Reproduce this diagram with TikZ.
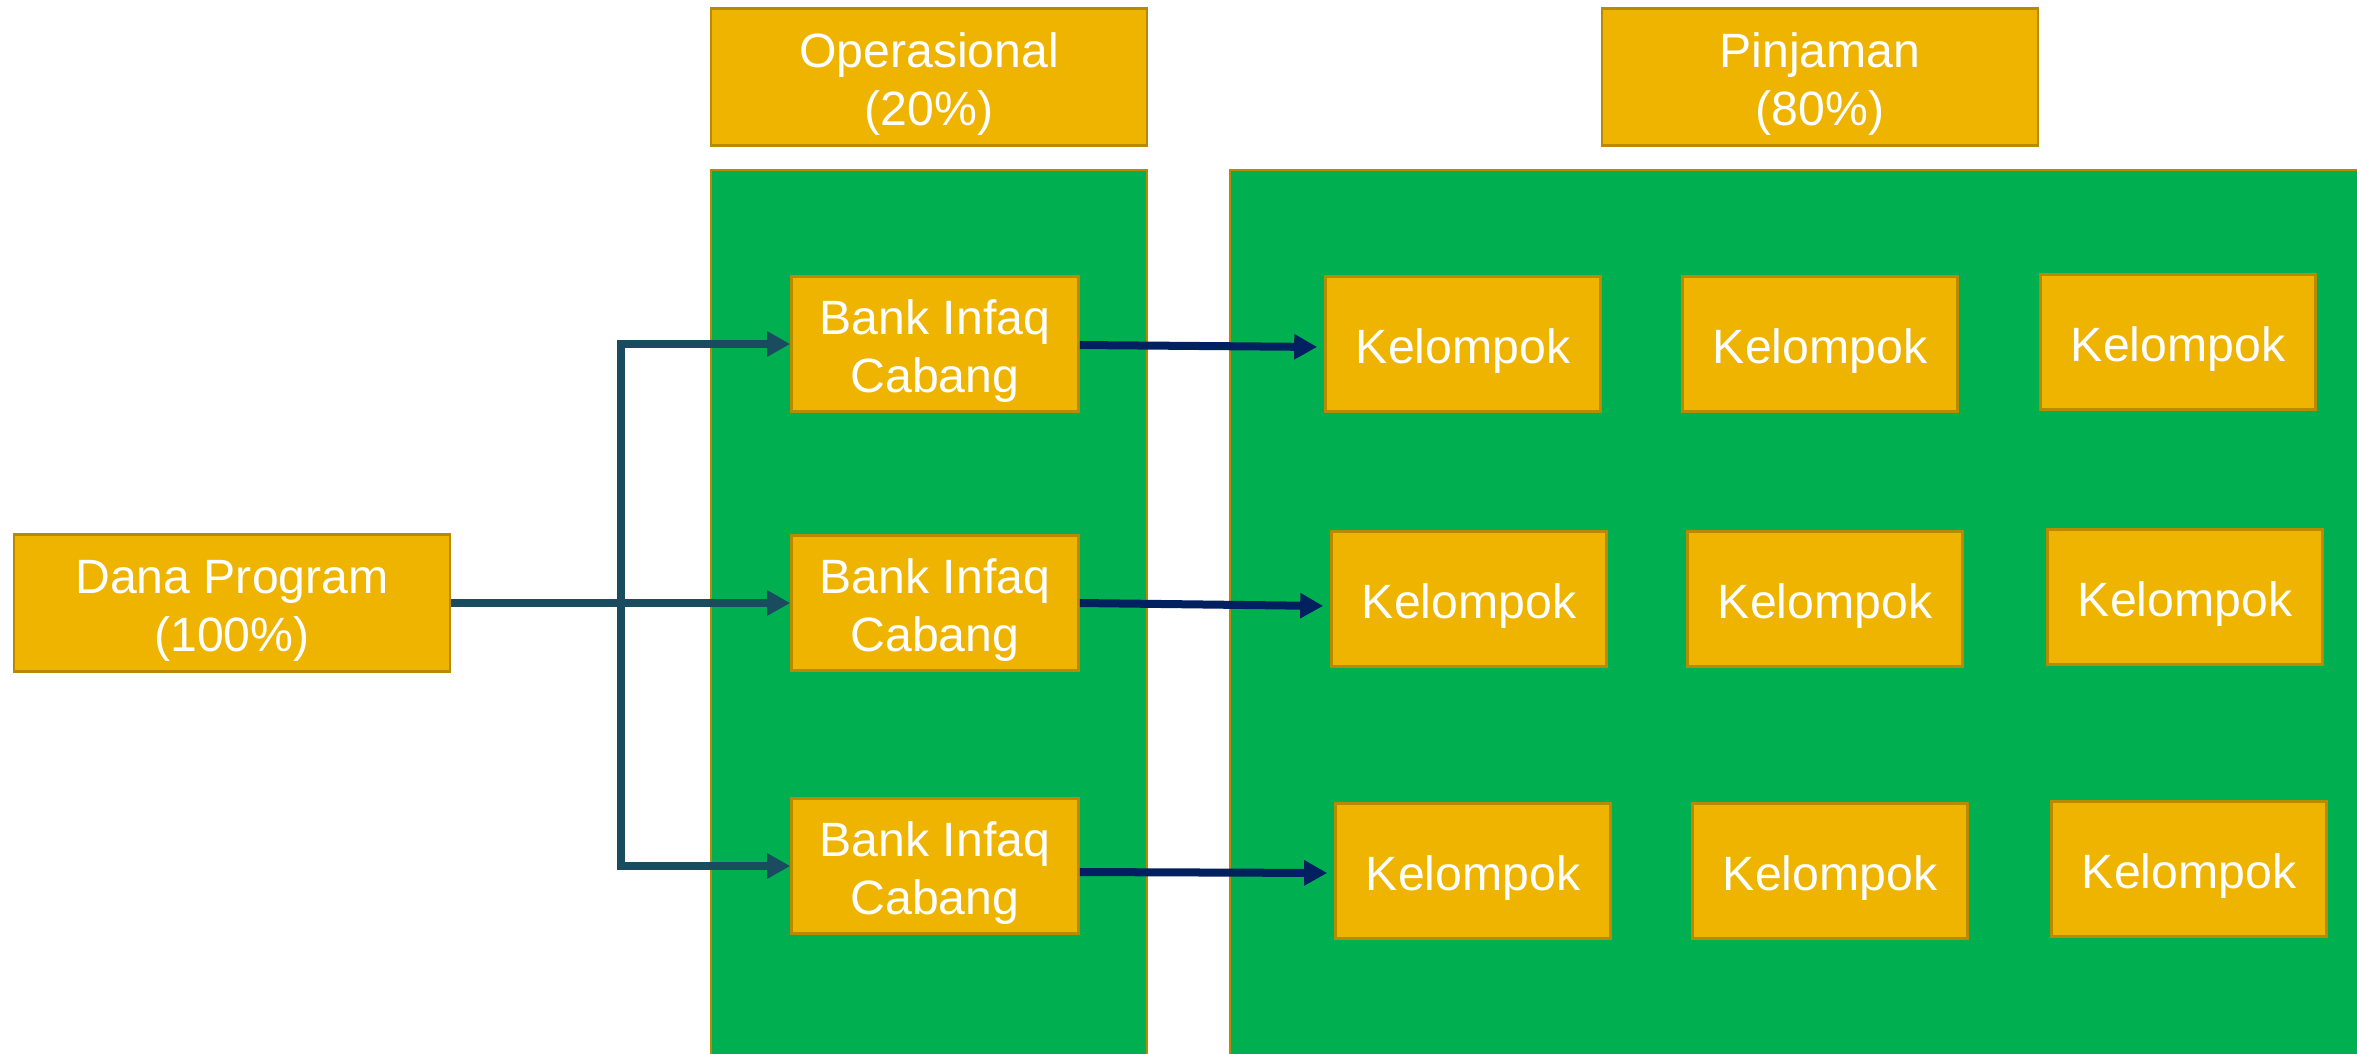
\documentclass[tikz,border=0pt]{standalone}
\usepackage{fontspec}
\setmainfont{Liberation Sans}
\usetikzlibrary{arrows.meta}
\definecolor{gold}{RGB}{238,180,0}
\definecolor{goldedge}{RGB}{184,138,0}
\definecolor{panelgreen}{RGB}{0,176,80}
\definecolor{tealline}{RGB}{27,75,95}
\definecolor{navyline}{RGB}{0,32,96}
% text sits a little below the middle of each box
\newcommand{\boxlabel}[1]{\raisebox{-0.075cm}[\height][\depth]{\begin{tabular}{@{}c@{}}#1\end{tabular}}}
\begin{document}
\begin{tikzpicture}[x=0.01cm, y=-0.01cm,
  box/.style={rectangle, fill=gold, draw=goldedge, line width=0.7pt, text=white, inner sep=0pt, font=\fontsize{13.7}{16.5}\selectfont},
  head/.style={box, minimum width=4.36cm, minimum height=1.37cm},
  bank/.style={box, minimum width=2.87cm, minimum height=1.35cm},
  kel/.style={box, minimum width=2.75cm, minimum height=1.35cm},
  panel/.style={fill=panelgreen, draw=goldedge, line width=0.7pt},
  link/.style={line width=0.08cm, -{Triangle[length=0.23cm,width=0.24cm]}}]
\useasboundingbox (0,0) rectangle (2357,1053);
\fill[white] (0,0) rectangle (2357,1053);
% panels
\draw[panel] (711,170) rectangle (1147,1070);
\draw[panel] (1230,170) rectangle (2370,1070);
% headers
\node[head] (dana) at (232,603) {\boxlabel{Dana Program\\(100\%)}};
\node[head] (oper) at (929,77) {\boxlabel{Operasional\\(20\%)}};
\node[head] (pinj) at (1820,77) {\boxlabel{Pinjaman\\(80\%)}};
% bank infaq
\node[bank] (bank1) at (935,344) {\boxlabel{Bank Infaq\\Cabang}};
\node[bank] (bank2) at (935,603) {\boxlabel{Bank Infaq\\Cabang}};
\node[bank] (bank3) at (935,866) {\boxlabel{Bank Infaq\\Cabang}};
% kelompok
\node[kel] (k11) at (1463,344) {\boxlabel{Kelompok}};
\node[kel] (k12) at (1820,344) {\boxlabel{Kelompok}};
\node[kel] (k13) at (2178,342) {\boxlabel{Kelompok}};
\node[kel] (k21) at (1469,599) {\boxlabel{Kelompok}};
\node[kel] (k22) at (1825,599) {\boxlabel{Kelompok}};
\node[kel] (k23) at (2185,597) {\boxlabel{Kelompok}};
\node[kel] (k31) at (1473,871) {\boxlabel{Kelompok}};
\node[kel] (k32) at (1830,871) {\boxlabel{Kelompok}};
\node[kel] (k33) at (2189,869) {\boxlabel{Kelompok}};
% connectors
\coordinate (split) at (621,603);
\draw[link, tealline] (dana.east) -- (bank2.west);
\draw[link, tealline] (split) |- (bank1.west);
\draw[link, tealline] (split) |- (bank3.west);
\draw[link, navyline, shorten >=0.07cm] ([yshift=-0.01cm]bank1.east) -- ([yshift=-0.03cm]k11.west);
\draw[link, navyline, shorten >=0.07cm] ([yshift=0cm]bank2.east) -- ([yshift=-0.07cm]k21.west);
\draw[link, navyline, shorten >=0.07cm] ([yshift=-0.06cm]bank3.east) -- ([yshift=-0.02cm]k31.west);
\end{tikzpicture}
\end{document}
